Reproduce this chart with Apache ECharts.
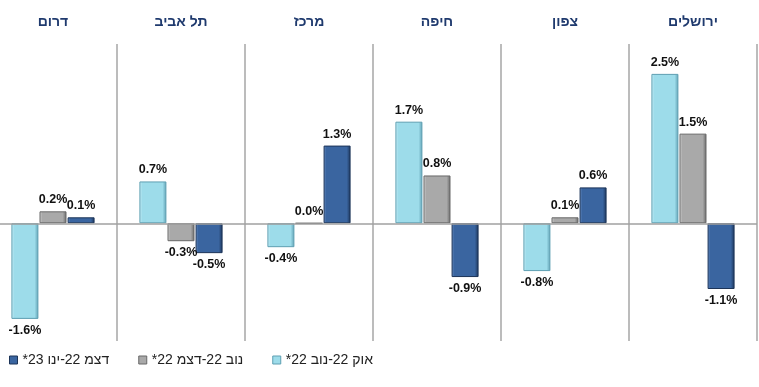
<!DOCTYPE html>
<html>
<head>
<meta charset="utf-8">
<script src="https://cdn.jsdelivr.net/npm/echarts@6/dist/echarts.min.js"></script>
<style>
html,body{margin:0;padding:0;background:#fff;overflow:hidden;}
#c{width:770px;height:387px;margin-left:-11px;direction:rtl;}
</style>
</head>
<body>
<div id="c"></div>
<script>
// Regions (right to left in the picture)
const regions = ['ירושלים', 'צפון', 'חיפה', 'מרכז', 'תל אביב', 'דרום'];
const seriesNames = ['אוק 22-נוב 22*', 'נוב 22-דצמ 22*', 'דצמ 22-ינו 23*'];
const octNov = [2.5, -0.8, 1.7, -0.4, 0.7, -1.6];
const novDec = [1.5, 0.1, 0.8, 0.0, -0.3, 0.2];
const decJan = [-1.1, 0.6, -0.9, 1.3, -0.5, 0.1];

const font = '"Liberation Sans", "DejaVu Sans", Arial, sans-serif';
const fills = [
  {c: '#9DDCEA', b: '#5E9FB2', hi: '#D2F2F9'},
  {c: '#A9A9A9', b: '#686868', hi: '#DADADA'},
  {c: '#3A65A0', b: '#1C3458', hi: '#6A90C6'}
];
function grad(f) {
  return new echarts.graphic.LinearGradient(0, 0, 1, 0, [
    {offset: 0, color: f.hi}, {offset: 0.1, color: f.c}, {offset: 0.86, color: f.c}, {offset: 1, color: f.b}
  ]);
}
function mk(vals) {
  return vals.map(v => ({value: v, label: {position: v < 0 ? 'bottom' : 'top'}}));
}
const allVals = [octNov, novDec, decJan];
const series = allVals.map((vals, i) => ({
  name: seriesNames[i],
  type: 'bar',
  barWidth: 27,
  barGap: '4%',
  data: mk(vals),
  itemStyle: {color: grad(fills[i]), borderColor: fills[i].b, borderWidth: 1},
  label: {
    show: true, distance: 5, color: '#111', fontWeight: 'bold', fontSize: 12.5, fontFamily: font,
    formatter: p => '\u202A' + p.value.toFixed(1) + '%\u202C'
  },
  markLine: i === 0 ? {
    silent: true, symbol: 'none', label: {show: false},
    lineStyle: {color: '#A0A0A0', width: 1.5, type: 'solid'},
    data: [{yAxis: 0}]
  } : undefined
}));

const chart = echarts.init(document.getElementById('c'), null, {renderer: 'canvas'});
chart.setOption({
  animation: false,
  textStyle: {fontFamily: font},
  grid: {left: 0, right: 2, top: 44, bottom: 46},
  legend: {
    data: seriesNames.slice().reverse().map((n, i) => ({name: n, icon: 'rect', itemStyle: {color: fills[2 - i].c, borderColor: fills[2 - i].b, borderWidth: 1}})),
    left: 15, top: 348, itemWidth: 8, itemHeight: 8, itemGap: 29,
    textStyle: {fontSize: 14, color: '#222', fontFamily: font}
  },
  xAxis: {
    type: 'category', data: regions, inverse: true, position: 'top',
    axisLine: {show: false}, axisTick: {show: false},
    axisLabel: {margin: 15, color: '#1F3A6E', fontWeight: 'bold', fontSize: 14, fontFamily: font},
    splitLine: {show: true, lineStyle: {color: '#A6A6A6', width: 1.5}}
  },
  yAxis: {
    type: 'value', min: -1.97, max: 3, show: false, splitLine: {show: false}
  },
  series: series
});
</script>
</body>
</html>
